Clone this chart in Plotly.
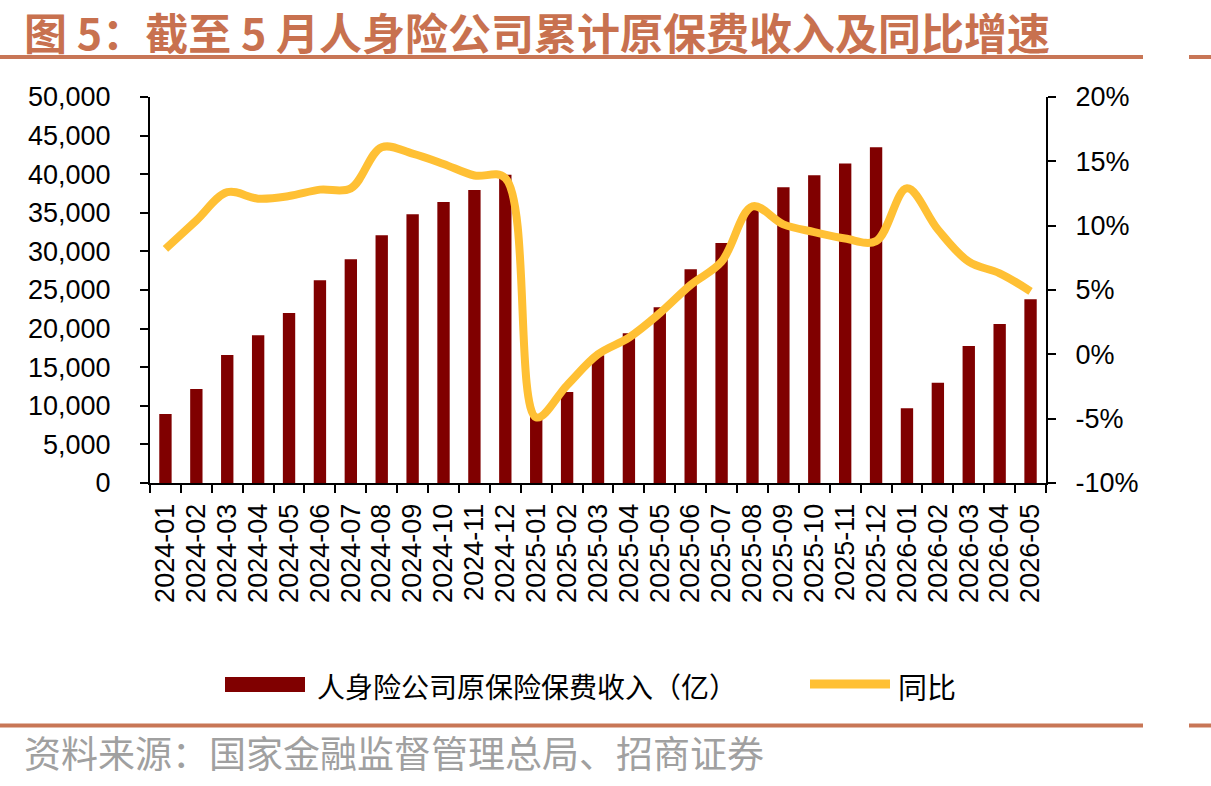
import plotly.graph_objects as go

months = ["2024-01","2024-02","2024-03","2024-04","2024-05","2024-06","2024-07","2024-08","2024-09","2024-10","2024-11","2024-12",
          "2025-01","2025-02","2025-03","2025-04","2025-05","2025-06","2025-07","2025-08","2025-09","2025-10","2025-11","2025-12",
          "2026-01","2026-02","2026-03","2026-04","2026-05"]
premium = [8950, 12180, 16580, 19130, 22020, 26250, 28970, 32080, 34800, 36400, 37950, 39940,
           8550, 11800, 16550, 19400, 22750, 27700, 31100, 35400, 38300, 39860, 41400, 43500,
           9670, 13000, 17750, 20600, 23800]
yoy = [8.2, 10.4, 12.6, 12.1, 12.3, 12.8, 12.9, 16.1, 15.6, 14.8, 13.9, 13.7,
       -4.9, -2.4, 0.0, 1.3, 3.2, 5.4, 7.2, 11.5, 10.1, 9.5, 9.0, 8.8,
       12.9, 9.7, 7.2, 6.3, 4.9]
pct_ticks = [-10, -5, 0, 5, 10, 15, 20]
pct_labels = ["-10%", "-5%", "0%", "5%", "10%", "15%", "20%"]

title_text = "图 5：截至 5 月人身险公司累计原保费收入及同比增速"
source_text = "资料来源：国家金融监督管理总局、招商证券"
bar_name = "人身险公司原保险保费收入（亿）"
line_name = "同比"

W, H = 1211, 786
L, R, T, B = 150, 165, 97, 303
BAR_COLOR = "#800000"
LINE_COLOR = "#FFC034"
RULE_COLOR = "#C87656"

fig = go.Figure()
fig.add_trace(go.Bar(x=months, y=premium, name=bar_name, marker_color=BAR_COLOR,
                     marker_line_width=0, width=0.4, yaxis="y"))
fig.add_trace(go.Scatter(x=months, y=yoy, name=line_name, mode="lines",
                         line=dict(color=LINE_COLOR, width=8, shape="spline", smoothing=1.0),
                         yaxis="y2"))

tickfont = dict(family="Liberation Sans, Arial, sans-serif", size=27, color="black")

def px(x):
    return (x - L) / (W - L - R)

def py(y):
    return (H - B - y) / (H - T - B)

fig.update_layout(
    width=W, height=H,
    margin=dict(l=L, r=R, t=T, b=B),
    paper_bgcolor="white", plot_bgcolor="white",
    showlegend=False,
    xaxis=dict(type="category", tickmode="array", tickvals=months, ticktext=months,
               tickangle=-90, tickfont=tickfont, showline=True,
               linecolor="black", linewidth=2, ticks="outside", ticklen=8, tickwidth=2,
               tickcolor="black", tickson="boundaries", showgrid=False, ticklabelstandoff=8),
    yaxis=dict(range=[0, 50000], dtick=5000, tickformat=",", tickfont=tickfont, showline=True,
               linecolor="black", linewidth=2, ticks="outside", ticklen=8, tickwidth=2,
               tickcolor="black", showgrid=False, zeroline=False, ticklabelstandoff=24),
    yaxis2=dict(range=[-10, 20], tickmode="array", tickvals=pct_ticks, ticktext=pct_labels,
                overlaying="y", side="right",
                tickfont=tickfont, showline=True, linecolor="black", linewidth=2,
                ticks="outside", ticklen=8, tickwidth=2, tickcolor="black",
                showgrid=False, zeroline=False, ticklabelstandoff=14),
)

shapes = []
for yc in (57, 725.5):
    shapes.append(dict(type="line", xref="paper", yref="paper", x0=px(0), x1=px(1143), y0=py(yc), y1=py(yc),
                       line=dict(color=RULE_COLOR, width=4)))
    shapes.append(dict(type="line", xref="paper", yref="paper", x0=px(1189), x1=px(1211), y0=py(yc), y1=py(yc),
                       line=dict(color=RULE_COLOR, width=4)))
shapes.append(dict(type="rect", xref="paper", yref="paper", x0=px(225), x1=px(305), y0=py(692), y1=py(677),
                   fillcolor=BAR_COLOR, line=dict(width=0)))
shapes.append(dict(type="line", xref="paper", yref="paper", x0=px(810), x1=px(890), y0=py(684), y1=py(684),
                   line=dict(color=LINE_COLOR, width=9)))
fig.update_layout(shapes=shapes)

annotations = [
    dict(text="<b>" + title_text + "</b>", xref="paper", yref="paper", x=px(22), y=py(31),
         xanchor="left", yanchor="middle", showarrow=False,
         font=dict(family="Noto Sans CJK SC", size=43, color="#C8714F")),
    dict(text=bar_name, xref="paper", yref="paper", x=px(315), y=py(686),
         xanchor="left", yanchor="middle", showarrow=False,
         font=dict(family="Noto Sans CJK SC", size=28, color="black")),
    dict(text=line_name, xref="paper", yref="paper", x=px(896), y=py(686),
         xanchor="left", yanchor="middle", showarrow=False,
         font=dict(family="Noto Sans CJK SC", size=29, color="black")),
    dict(text=source_text, xref="paper", yref="paper", x=px(22), y=py(752),
         xanchor="left", yanchor="middle", showarrow=False,
         font=dict(family="Noto Sans CJK SC", size=37, color="#A0A0A0")),
]
fig.update_layout(annotations=annotations)

fig.write_html("out.html")
